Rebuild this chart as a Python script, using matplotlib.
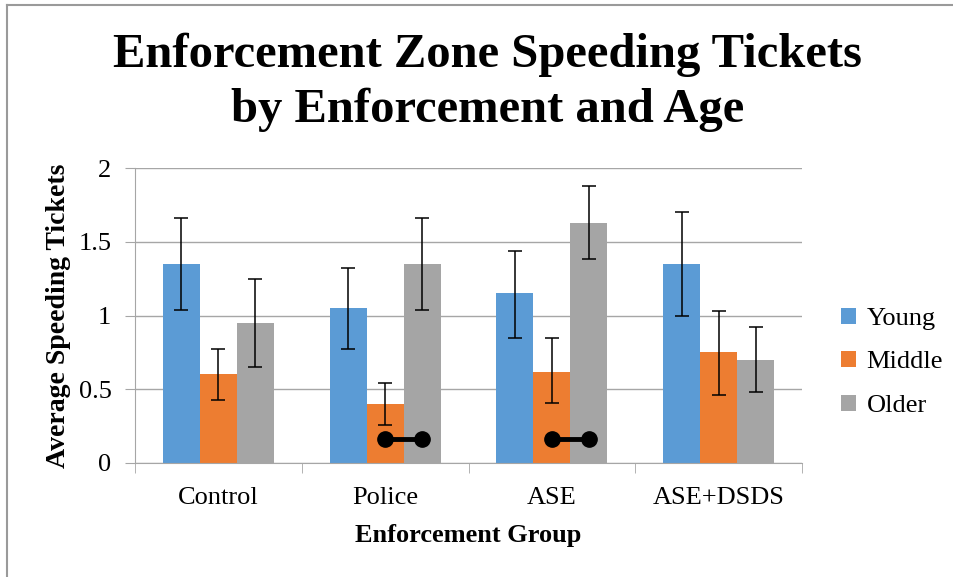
import numpy as np
import matplotlib.pyplot as plt
from matplotlib.lines import Line2D

groups = ["Control", "Police", "ASE", "ASE+DSDS"]
series = ["Young", "Middle", "Older"]
colors = ["#5B9BD5", "#ED7D31", "#A5A5A5"]

young = [1.35, 1.05, 1.15, 1.35]
middle = [0.60, 0.40, 0.62, 0.75]
older = [0.95, 1.35, 1.63, 0.70]

young_lo = [1.04, 0.77, 0.85, 1.00]
young_hi = [1.66, 1.32, 1.44, 1.70]
middle_lo = [0.43, 0.26, 0.41, 0.46]
middle_hi = [0.77, 0.54, 0.85, 1.03]
older_lo = [0.65, 1.04, 1.38, 0.48]
older_hi = [1.25, 1.66, 1.88, 0.92]

# significance connectors between Middle and Older bars
sig_groups = [1, 2]
sig_y = 0.16

plt.rcParams['font.family'] = ['Liberation Serif', 'DejaVu Serif']

fig = plt.figure(figsize=(9.54, 5.77), dpi=100)
ax = fig.add_axes([0.1415, 0.1976, 0.6992, 0.5112])

x = np.arange(len(groups))
w = 1 / 4.5
vals = [young, middle, older]
los = [young_lo, middle_lo, older_lo]
his = [young_hi, middle_hi, older_hi]
for i, (v, lo, hi) in enumerate(zip(vals, los, his)):
    v = np.array(v)
    err = [v - np.array(lo), np.array(hi) - v]
    ax.bar(x + (i - 1) * w, v, w, color=colors[i], label=series[i], zorder=2,
           yerr=err, error_kw=dict(ecolor='black', elinewidth=1.1, capsize=5, capthick=1.1, zorder=3))

for g in sig_groups:
    ax.plot([g, g + w], [sig_y, sig_y], color='black', lw=3.5, marker='o', ms=11, zorder=4)

ax.set_xlim(-0.5, len(groups) - 0.5)
ax.set_ylim(0, 2)
ax.set_yticks([0, 0.5, 1, 1.5, 2])
ax.set_yticklabels(["0", "0.5", "1", "1.5", "2"])
ax.yaxis.grid(True, color='#A6A6A6', lw=1, zorder=0)
ax.set_axisbelow(True)
for s in ['top', 'right']:
    ax.spines[s].set_visible(False)
for s in ['left', 'bottom']:
    ax.spines[s].set_color('#A6A6A6')
ax.set_xticks(x)
ax.set_xticklabels(groups)
ax.set_xticks(np.arange(-0.5, len(groups)), minor=True)
ax.tick_params(axis='x', which='major', length=0, pad=17, labelsize=19)
ax.tick_params(axis='x', which='minor', length=7, color='#A6A6A6')
ax.tick_params(axis='y', length=7, color='#A6A6A6', labelsize=19, pad=10)

ax.set_xlabel("Enforcement Group", fontsize=19, fontweight='bold', labelpad=11)
ax.set_ylabel("Average Speeding Tickets", fontsize=20, fontweight='bold', labelpad=5)

fig.text(0.511, 0.857, "Enforcement Zone Speeding Tickets\nby Enforcement and Age",
         ha='center', va='center', fontsize=35, fontweight='bold', linespacing=1.3)

fig.legend(*ax.get_legend_handles_labels(), loc='center left', bbox_to_anchor=(0.882, 0.372),
           frameon=False, fontsize=19, borderpad=0, borderaxespad=0,
           handlelength=0.55, handleheight=0.55, handletextpad=0.4, labelspacing=0.8)

fig.add_artist(Line2D([0.0075, 0.0075], [0, 0.991], transform=fig.transFigure, color='#9A9A9A', lw=1.5))
fig.add_artist(Line2D([0.0075, 1], [0.991, 0.991], transform=fig.transFigure, color='#9A9A9A', lw=1.5))

fig.savefig("out.png", dpi=100)
